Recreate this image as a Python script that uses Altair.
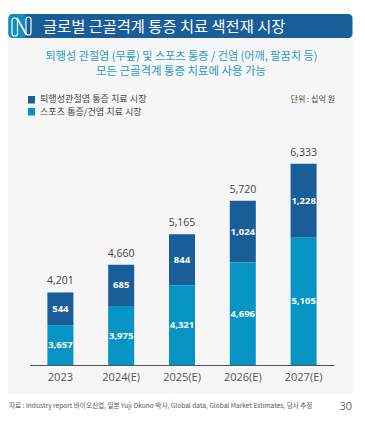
import altair as alt
import pandas as pd

years = ["2023", "2024(E)", "2025(E)", "2026(E)", "2027(E)"]
sports = [3657, 3975, 4321, 4696, 5105]
knee = [544, 685, 844, 1024, 1228]
totals = [4201, 4660, 5165, 5720, 6333]
totals_txt = ["4,201", "4,660", "5,165", "5,720", "6,333"]
sports_txt = ["3,657", "3,975", "4,321", "4,696", "5,105"]
knee_txt = ["544", "685", "844", "1,024", "1,228"]

FONT = "Noto Sans CJK KR"
NUM = "Open Sans"
NAVY = "#1a5e99"
TEAL = "#0694c4"
BASE = 3000

df = pd.DataFrame({
    "year": years, "sports": sports, "knee": knee, "total": totals,
    "base": [BASE] * 5,
    "t": totals_txt, "s": sports_txt, "k": knee_txt,
    "smid": [(BASE + v) / 2 for v in sports],
    "kmid": [s + k / 2 for s, k in zip(sports, knee)],
})

W, H = 304, 357
PADL = 22
x = alt.X("year:N", sort=years, scale=alt.Scale(paddingInner=0.57, paddingOuter=0.285),
          axis=alt.Axis(title=None, labelFont=NUM, labelFontSize=11, labelColor="#555555",
                        labelAngle=0, labelPadding=6, ticks=False, domainColor="#555555",
                        domainWidth=1, grid=False, zindex=1))
yscale = alt.Scale(domain=[BASE, 8910], zero=False, nice=False)


def ych(field):
    return alt.Y(field, scale=yscale, axis=None)


def deco(text, px, py, size, color, align="left", weight=400, font=FONT):
    return alt.Chart(pd.DataFrame({"t": [text]})).mark_text(
        font=font, fontSize=size, color=color, align=align, baseline="middle", fontWeight=weight
    ).encode(text="t:N", x=alt.value(px - 30), y=alt.value(py - 8))


def box(x0, x1, y0, y1, color, radius=0):
    return alt.Chart(pd.DataFrame({"a": [1]})).mark_rect(color=color, cornerRadius=radius).encode(
        x=alt.value(x0 - 30), x2=alt.value(x1 - 30), y=alt.value(y0 - 8), y2=alt.value(y1 - 8))


def ring(x0, x1, y0, y1):
    return alt.Chart(pd.DataFrame({"a": [1]})).mark_rect(
        filled=False, stroke="white", strokeWidth=1.2, cornerRadius=2.5
    ).encode(x=alt.value(x0 - 30), x2=alt.value(x1 - 30), y=alt.value(y0 - 8), y2=alt.value(y1 - 8))


def diag(x0, x1, y0, y1):
    return alt.Chart(pd.DataFrame({"a": [1]})).mark_rule(color="white", strokeWidth=1.6).encode(
        x=alt.value(x0 - 30), x2=alt.value(x1 - 30), y=alt.value(y0 - 8), y2=alt.value(y1 - 8))


base = alt.Chart(df)
bars_navy = base.mark_bar(color=NAVY, size=26).encode(x=x, y=ych("total:Q"), y2="sports:Q")
bars_teal = base.mark_bar(color=TEAL, size=26).encode(x=x, y=ych("sports:Q"), y2="base:Q")
lab_total = base.mark_text(font=NUM, fontSize=10.5, color="#444444", dy=-11).encode(x=x, y=ych("total:Q"), text="t:N")
lab_k = base.mark_text(font=NUM, fontSize=9.5, fontWeight=700, color="white").encode(
    x=x, y=ych("kmid:Q"), text="k:N")
lab_s = base.mark_text(font=NUM, fontSize=9.5, fontWeight=700, color="white").encode(
    x=x, y=ych("smid:Q"), text="s:N")

chart = alt.layer(
    box(8, 352.5, 30, 394, "#f6f6f6"),
    box(8.5, 352.5, 14, 38, NAVY, 4),
    box(8.5, 24, 14, 38, "#0f8fc0", 4),
    box(20, 25, 14, 38, "#0f8fc0"),
    ring(12, 17.5, 18, 36),
    ring(26, 31, 17, 35),
    diag(17, 26.5, 18, 35),
    deco("글로벌 근골격계 통증 치료 색전재 시장", 43, 27, 15.3, "white"),
    deco("퇴행성 관절염 (무릎) 및 스포츠 통증 / 건염 (어깨, 팔꿈치 등)", 181.5, 57, 11.1, "#2a9ac8", "center"),
    deco("모든 근골격계 통증 치료에 사용 가능", 181, 72, 11.4, "#2a9ac8", "center"),
    box(28, 35, 96, 103.5, NAVY),
    box(28, 35, 108, 115.5, TEAL),
    deco("퇴행성관절염 통증 치료 시장", 40, 99, 9.1, "#444444"),
    deco("스포츠 통증/건염 치료 시장", 40, 111.5, 9.1, "#444444"),
    deco("단위 : 십억 원", 335, 100, 8, "#444444", "right"),
    bars_navy, bars_teal, lab_total, lab_k, lab_s,
    deco("자료 : Industry report 바이오신업, 일본 Yuji Okuno 박사, Global data, Global Market Estimates, 당사 추정", 9, 406, 6.6, "#555555"),
    deco("30", 352, 407, 11, "#666666", "right", font=NUM),
).properties(
    width=W, height=H,
    padding={"left": PADL, "top": 0, "right": 20, "bottom": 51},
    autosize=alt.AutoSizeParams(type="none"),
    background="white",
).configure_view(stroke=None)

chart.save("out.html", embed_options={"renderer": "svg", "actions": False})
